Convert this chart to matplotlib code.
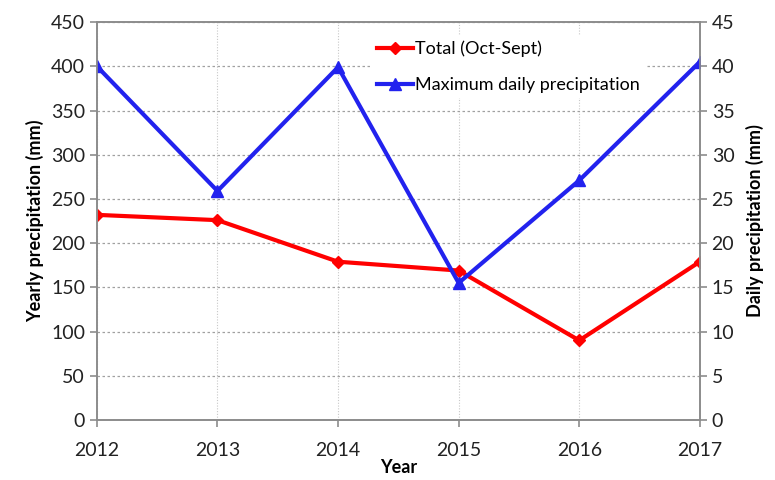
import matplotlib.pyplot as plt

plt.rcParams['font.family'] = ['Lato', 'DejaVu Sans']

# Data
years = [2012, 2013, 2014, 2015, 2016, 2017]
total_precip = [232, 226, 179, 169, 90, 179]          # mm, left axis
max_daily_precip = [40.0, 25.9, 39.9, 15.5, 27.1, 40.5]  # mm, right axis

fig = plt.figure(figsize=(7.75, 4.8), dpi=100)
ax = fig.add_axes([0.125, 0.125, 0.778, 0.829])
ax2 = ax.twinx()

# grid
ax.set_axisbelow(True)
ax.yaxis.grid(True, color="#a0a0a0", linestyle=(0, (2, 2)), linewidth=0.9)
ax.xaxis.grid(True, color="#c8c8c8", linestyle=(0, (1, 1.5)), linewidth=0.8)

l1, = ax.plot(years, total_precip, color="#ff0000", marker="D", markersize=6,
              linewidth=3, label="Total (Oct-Sept)")
l2, = ax2.plot(years, max_daily_precip, color="#2222ee", marker="^", markersize=9,
               linewidth=3, label="Maximum daily precipitation")

ax.set_xlim(2012, 2017)
ax.set_ylim(0, 450)
ax2.set_ylim(0, 45)
ax.set_yticks(range(0, 451, 50))
ax2.set_yticks(range(0, 46, 5))
ax.set_xticks(years)

for a in (ax, ax2):
    for s in a.spines.values():
        s.set_color("#8c8c8c")
        s.set_linewidth(1.2)
    a.tick_params(labelsize=14, colors="#8c8c8c", labelcolor="#222222",
                  length=5, width=1.2)
ax.tick_params(axis="x", pad=11)

ax.set_xlabel("Year", fontsize=13, fontweight="bold", labelpad=0)
ax.set_ylabel("Yearly precipitation (mm)", fontsize=13, fontweight="bold", labelpad=5)
ax2.set_ylabel("Daily precipitation (mm)", fontsize=13, fontweight="bold", labelpad=8)

leg = ax2.legend(handles=[l1, l2], loc="upper left", bbox_to_anchor=(0.44, 0.99),
                 frameon=True, fontsize=13, handlelength=2.0, handletextpad=0.1,
                 labelspacing=1.1, borderpad=0.3)
leg.get_frame().set_edgecolor("none")
leg.get_frame().set_facecolor("white")
leg.get_frame().set_alpha(1)

fig.savefig("out.png", dpi=100)
